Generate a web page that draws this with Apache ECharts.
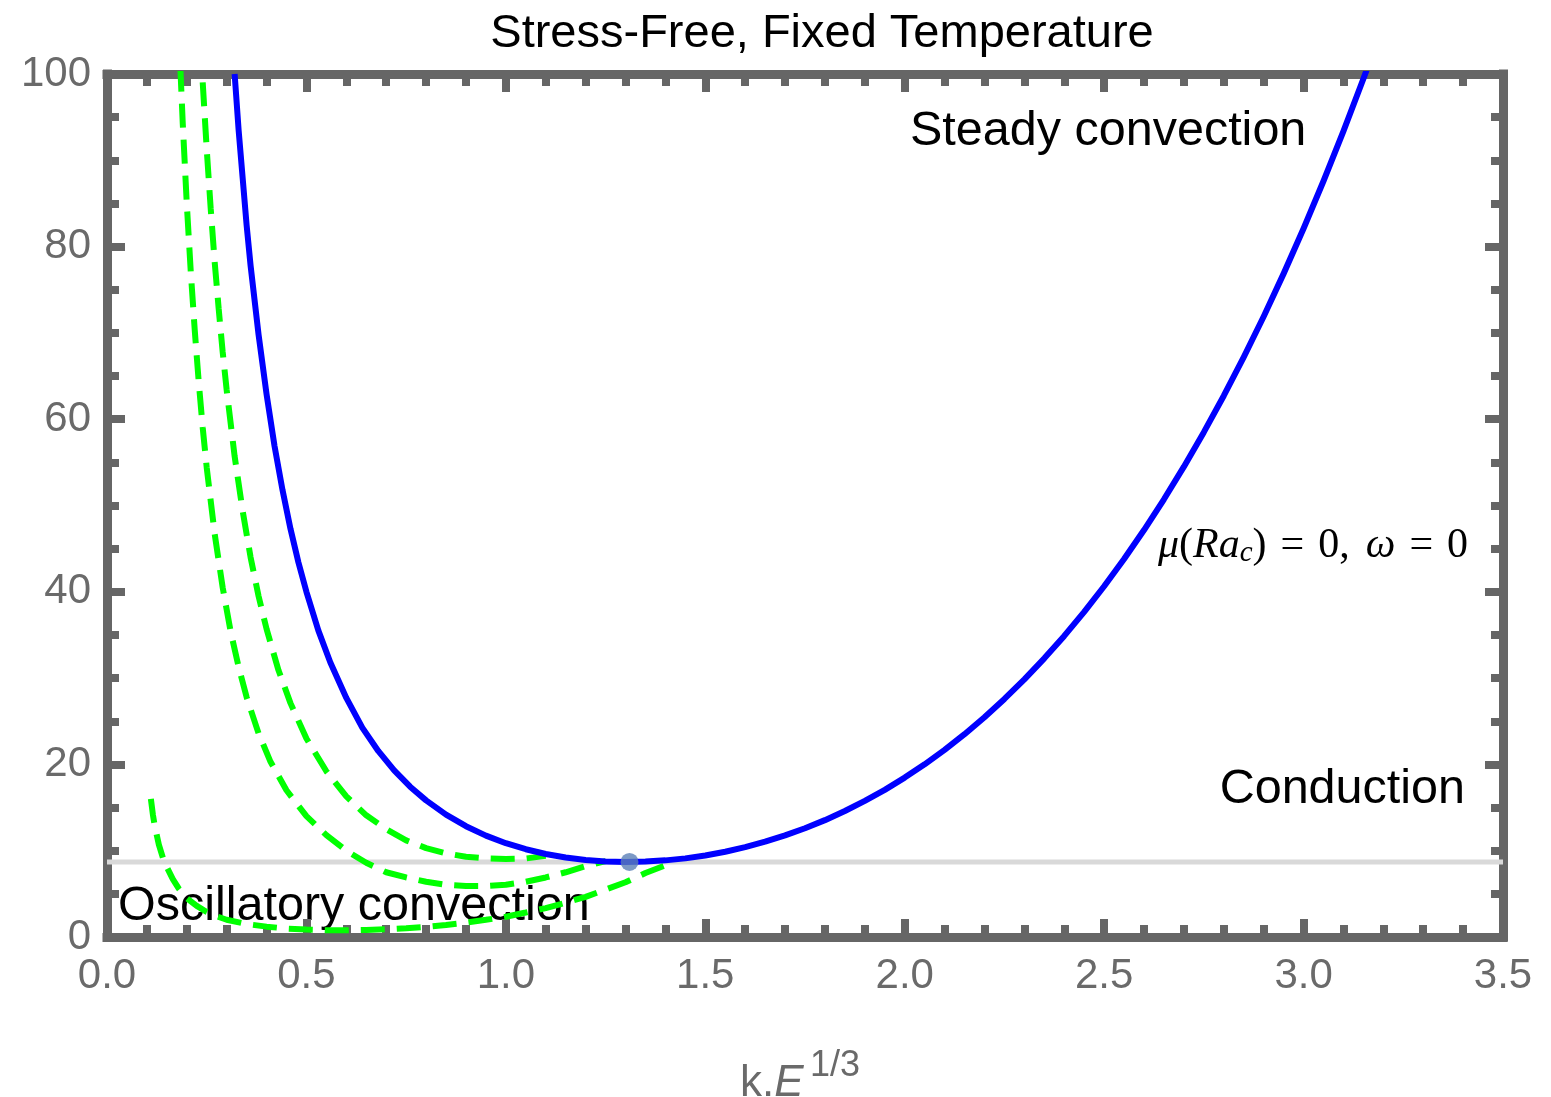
<!DOCTYPE html>
<html>
<head>
<meta charset="utf-8">
<script src="https://cdn.jsdelivr.net/npm/echarts@6/dist/echarts.min.js"></script>
<style>
  html, body { margin: 0; padding: 0; background: #fff; }
  #chart { width: 1551px; height: 1097px; }
</style>
</head>
<body>
<div id="chart"></div>
<script>
// Wavenumber axis k·E^(1/3) and scaled Rayleigh number axis
const xTicks = [0, 0.5, 1.0, 1.5, 2.0, 2.5, 3.0, 3.5];
const yTicks = [0, 20, 40, 60, 80, 100];

// Steady convection onset curve (solid blue)
const kSteady = [0.32, 0.33, 0.34, 0.35, 0.36, 0.38, 0.40, 0.42, 0.44, 0.46, 0.48, 0.50, 0.53, 0.56,
  0.60, 0.64, 0.68, 0.72, 0.76, 0.80, 0.85, 0.90, 0.95, 1.00, 1.05, 1.10, 1.15, 1.20, 1.25, 1.30,
  1.35, 1.40, 1.45, 1.50, 1.55, 1.60, 1.65, 1.70, 1.75, 1.80, 1.85, 1.90, 1.95, 2.00, 2.05, 2.10,
  2.15, 2.20, 2.25, 2.30, 2.35, 2.40, 2.45, 2.50, 2.55, 2.60, 2.65, 2.70, 2.75, 2.80, 2.85, 2.90,
  2.95, 3.00, 3.05, 3.10, 3.15, 3.17];
const raSteady = [100.0, 93.5, 88.0, 82.5, 77.8, 69.8, 62.9, 56.9, 51.8, 47.3, 43.4, 40.0, 35.5, 31.8,
  27.7, 24.26, 21.56, 19.31, 17.42, 15.83, 14.18, 12.84, 11.75, 10.87, 10.17, 9.62, 9.21, 8.93, 8.76, 8.70,
  8.74, 8.88, 9.11, 9.45, 9.88, 10.41, 11.04, 11.77, 12.60, 13.54, 14.60, 15.77, 17.05, 18.47, 20.01, 21.69,
  23.50, 25.46, 27.58, 29.85, 32.29, 34.89, 37.67, 40.64, 43.80, 47.16, 50.72, 54.50, 58.50, 62.72, 67.19, 71.90,
  76.87, 82.10, 87.60, 93.38, 99.45, 101.96];

// Oscillatory convection onset curves (dashed green)
const kOscA = [0.235, 0.24, 0.25, 0.26, 0.27, 0.28, 0.29, 0.30, 0.32, 0.34, 0.36, 0.38, 0.40, 0.43,
  0.46, 0.50, 0.55, 0.60, 0.65, 0.70, 0.75, 0.80, 0.85, 0.90, 0.95, 1.00, 1.05, 1.10];
const raOscA = [103.2, 99.0, 91.3, 84.4, 78.2, 72.8, 67.8, 63.4, 55.7, 49.4, 44.0, 39.5, 35.7, 30.9,
  27.1, 23.0, 19.2, 16.3, 14.1, 12.5, 11.2, 10.3, 9.7, 9.3, 9.1, 9.05, 9.1, 9.4];

const kOscB = [0.18, 0.19, 0.20, 0.21, 0.22, 0.23, 0.24, 0.25, 0.27, 0.29, 0.31, 0.33, 0.35, 0.38,
  0.41, 0.45, 0.50, 0.55, 0.60, 0.65, 0.70, 0.75, 0.80, 0.85, 0.90, 0.95, 1.00, 1.05, 1.10, 1.15,
  1.20, 1.25];
const raOscB = [104.9, 94.2, 85.0, 77.1, 70.3, 64.3, 59.0, 54.4, 46.7, 40.5, 35.4, 31.3, 27.8, 23.6,
  20.3, 17.0, 14.0, 11.8, 10.0, 8.6, 7.5, 6.9, 6.4, 6.05, 5.9, 5.9, 6.05, 6.4, 6.9, 7.5,
  8.2, 8.8];

const kOscC = [0.11, 0.115, 0.12, 0.13, 0.14, 0.15, 0.165, 0.18, 0.20, 0.225, 0.25, 0.275, 0.30, 0.35,
  0.40, 0.45, 0.50, 0.55, 0.60, 0.65, 0.70, 0.75, 0.80, 0.85, 0.90, 0.95, 1.00, 1.05, 1.10, 1.15,
  1.20, 1.25, 1.30, 1.35, 1.40];
const raOscC = [16.0, 14.2, 12.8, 10.7, 9.2, 8.1, 6.7, 5.6, 4.5, 3.6, 2.9, 2.4, 2.0, 1.5,
  1.2, 0.98, 0.86, 0.79, 0.79, 0.82, 0.9, 1.02, 1.18, 1.40, 1.66, 1.99, 2.35, 2.84, 3.35, 3.98,
  4.65, 5.49, 6.35, 7.41, 8.3];

// Critical point and conduction threshold
const criticalK = [1.31];
const criticalRa = [8.7];
const conductionK = [0, 3.5];

const zip = (xs, ys) => xs.map((x, i) => [x, ys[i]]);

const FRAME = '#666666';
const SANS = '"Liberation Sans", Arial, sans-serif';
const SERIF = '"Liberation Serif", "Times New Roman", serif';

function axisCommon(min, max, interval, minorSplit, showLabels, margin) {
  return {
    type: 'value', min, max, interval,
    axisLine: { show: true, onZero: false, lineStyle: { color: FRAME, width: 9, cap: 'square' } },
    axisTick: { show: true, inside: true, length: 18, lineStyle: { color: FRAME, width: 8 } },
    minorTick: { show: true, splitNumber: minorSplit, length: 12, lineStyle: { color: FRAME, width: 8 } },
    splitLine: { show: false },
    axisLabel: {
      show: showLabels, color: '#6a6a6a', fontSize: 42, fontFamily: SANS, margin: margin,
      formatter: v => (max === 3.5 ? v.toFixed(1) : String(v))
    }
  };
}

const chart = echarts.init(document.getElementById('chart'), null, { renderer: 'canvas' });

const curveBase = { type: 'line', symbol: 'none', smooth: false };
const dashed = { color: '#00ff00', width: 6, type: [24, 12] };

const option = {
  animation: false,
  backgroundColor: '#ffffff',
  grid: { left: 107, right: 48, top: 74, bottom: 160, containLabel: false },
  xAxis: [
    Object.assign(axisCommon(xTicks[0], xTicks[xTicks.length - 1], 0.5, 5, true, 18), { position: 'bottom' }),
    Object.assign(axisCommon(xTicks[0], xTicks[xTicks.length - 1], 0.5, 5, false, 8), { position: 'top' })
  ],
  yAxis: [
    Object.assign(axisCommon(yTicks[0], yTicks[yTicks.length - 1], 20, 4, true, 16), { position: 'left' }),
    Object.assign(axisCommon(yTicks[0], yTicks[yTicks.length - 1], 20, 4, false, 8), { position: 'right' })
  ],
  title: {
    text: 'Stress-Free, Fixed Temperature',
    left: 817, top: 6, textAlign: 'center',
    textStyle: { fontFamily: SANS, fontWeight: 'normal', fontSize: 47, color: '#000' }
  },
  series: [
    {
      type: 'line', name: 'conduction', data: zip(conductionK, [criticalRa[0], criticalRa[0]]),
      symbol: 'none', lineStyle: { color: '#d9d9d9', width: 5 }, z: 1
    },
    Object.assign({ name: 'oscA', data: zip(kOscA, raOscA), lineStyle: dashed, z: 2 }, curveBase),
    Object.assign({ name: 'oscB', data: zip(kOscB, raOscB), lineStyle: dashed, z: 2 }, curveBase),
    Object.assign({ name: 'oscC', data: zip(kOscC, raOscC), lineStyle: dashed, z: 2 }, curveBase),
    Object.assign({ name: 'steady', data: zip(kSteady, raSteady), lineStyle: { color: '#0000ff', width: 6, join: 'round' }, z: 3 }, curveBase),
    {
      type: 'scatter', name: 'critical', data: zip(criticalK, criticalRa),
      symbol: 'circle', symbolSize: 18, itemStyle: { color: '#5b7fb6' }, z: 4
    }
  ],
  graphic: [
    {
      type: 'text', left: 910, top: 107,
      style: { text: 'Steady convection', font: '48.5px ' + SANS, fill: '#000' }
    },
    {
      type: 'text', right: 86, top: 765,
      style: { text: 'Conduction', font: '48.5px ' + SANS, fill: '#000' }
    },
    {
      type: 'text', left: 118, top: 882,
      style: { text: 'Oscillatory convection', font: '48.5px ' + SANS, fill: '#000' }
    },
    {
      type: 'text', left: 1158, top: 525,
      style: {
        text: '{i|\u03bc}{r|(}{i|Ra}{s|c}{r|)}{e|=}{r|0,}{w|\u03c9}{e|=}{r|0}',
        rich: {
          i: { fontFamily: SERIF, fontStyle: 'italic', fontSize: 42, fill: '#000' },
          w: { fontFamily: SERIF, fontStyle: 'italic', fontSize: 42, fill: '#000', padding: [0, 0, 0, 16] },
          r: { fontFamily: SERIF, fontSize: 42, fill: '#000' },
          e: { fontFamily: SERIF, fontSize: 42, fill: '#000', padding: [0, 14, 0, 14] },
          s: { fontFamily: SERIF, fontStyle: 'italic', fontSize: 29, fill: '#000', verticalAlign: 'bottom', padding: [15, 0, 0, 0] }
        }
      }
    },
    {
      type: 'text', left: 740, top: 1062,
      style: {
        text: '{r|k.}{i|E}',
        rich: {
          r: { fontFamily: SANS, fontSize: 44, fill: '#6a6a6a' },
          i: { fontFamily: SANS, fontStyle: 'italic', fontSize: 44, fill: '#6a6a6a' }
        }
      }
    },
    {
      type: 'text', left: 810, top: 1048,
      style: { text: '1/3', font: '36px ' + SANS, fill: '#6a6a6a' }
    }
  ]
};

chart.setOption(option);
</script>
</body>
</html>
